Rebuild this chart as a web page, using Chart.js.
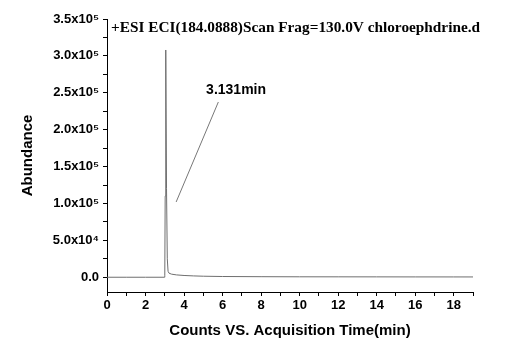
<!DOCTYPE html>
<html>
<head>
<meta charset="utf-8">
<script src="https://cdn.jsdelivr.net/npm/chart.js@4"></script>
<style>
  html, body { margin: 0; padding: 0; background: #fff; }
  #wrap { width: 518px; height: 354px; }
</style>
</head>
<body>
<div id="wrap"><canvas id="tic" width="518" height="354"></canvas></div>
<script>
// retention time (min) and abundance
const times = [0, 1, 2, 2.97, 3.0, 3.02, 3.05, 3.09, 3.13, 3.17, 3.22, 3.35, 3.6, 4.0, 4.5, 5, 6, 8, 10, 12, 14, 16, 18, 19];
const abundance = [0, 0, 0, 0, 2000, 110000, 308000, 120000, 25000, 8000, 5500, 4200, 3200, 2400, 1800, 1400, 1000, 750, 600, 550, 500, 450, 420, 400];

// labelled ticks and the unlabelled ticks in between
const yTickValues = [0, 50000, 100000, 150000, 200000, 250000, 300000, 350000];
const yTickLabels = ['0.0', '5.0x10\u2074', '1.0x10\u2075', '1.5x10\u2075', '2.0x10\u2075', '2.5x10\u2075', '3.0x10\u2075', '3.5x10\u2075'];
const yMinorTicks = [25000, 75000, 125000, 175000, 225000, 275000, 325000];
const xTickValues = [0, 2, 4, 6, 8, 10, 12, 14, 16, 18];
const xMinorTicks = [1, 3, 5, 7, 9, 11, 13, 15, 17, 19];

const plotTitle = '+ESI ECI(184.0888)Scan Frag=130.0V chloroephdrine.d';
const peakLabel = '3.131min';
const peakLabelAt = [6.7, 253000];
const leaderX = [3.59, 5.78];
const leaderY = [102000, 237500];

const sans = '"Liberation Sans", Arial, "DejaVu Sans", sans-serif';

const setTicks = (major, minor) => (s) => {
  s.ticks = major.concat(minor).sort((a, b) => a - b).map(v => ({ value: v }));
};

const textPlugin = {
  id: 'textPlugin',
  afterDraw(chart) {
    const ctx = chart.ctx;
    const xs = chart.scales.x, ys = chart.scales.y;
    ctx.save();
    ctx.fillStyle = '#000';
    ctx.font = 'bold 15.3px "Liberation Serif", "Times New Roman", serif';
    ctx.textBaseline = 'middle';
    ctx.textAlign = 'left';
    ctx.fillText(plotTitle, chart.chartArea.left + 4, chart.chartArea.top + 9);
    ctx.font = 'bold 14px ' + sans;
    ctx.textAlign = 'center';
    ctx.fillText(peakLabel, xs.getPixelForValue(peakLabelAt[0]), ys.getPixelForValue(peakLabelAt[1]));
    ctx.restore();
  }
};

new Chart(document.getElementById('tic').getContext('2d'), {
  type: 'line',
  data: {
    datasets: [
      {
        data: times.map((t, i) => ({ x: t, y: abundance[i] })),
        borderColor: '#6e6e6e', borderWidth: 1, pointRadius: 0, tension: 0, fill: false
      },
      {
        data: leaderX.map((t, i) => ({ x: t, y: leaderY[i] })),
        borderColor: '#777', borderWidth: 1, pointRadius: 0, tension: 0, fill: false
      }
    ]
  },
  options: {
    responsive: false,
    animation: false,
    layout: { padding: { left: 0, right: 45, top: 19, bottom: 0 } },
    plugins: { legend: { display: false }, tooltip: { enabled: false } },
    scales: {
      x: {
        type: 'linear', min: 0, max: 19,
        afterBuildTicks: setTicks(xTickValues, xMinorTicks),
        afterFit: (s) => { s.height = 62; },
        border: { display: true, color: '#000', width: 1 },
        grid: { drawOnChartArea: false, drawTicks: true, tickLength: 4, color: '#000' },
        ticks: {
          autoSkip: false, maxRotation: 0, padding: 2,
          color: '#000', font: { family: sans, size: 13, weight: 'bold' },
          callback: (v) => xTickValues.includes(v) ? String(v) : ''
        },
        title: {
          display: true, text: 'Counts VS. Acquisition Time(min)', color: '#000',
          font: { family: sans, size: 15, weight: 'bold' }, padding: { top: 14, bottom: 14 }
        }
      },
      y: {
        type: 'linear', min: -20000, max: 350000,
        afterBuildTicks: setTicks(yTickValues, yMinorTicks),
        afterFit: (s) => { s.width = 107; },
        border: { display: true, color: '#000', width: 1 },
        grid: { drawOnChartArea: false, drawTicks: true, tickLength: 4, color: '#000' },
        ticks: {
          autoSkip: false, padding: 4,
          color: '#000', font: { family: sans, size: 13, weight: 'bold' },
          callback: (v) => { const k = yTickValues.indexOf(v); return k >= 0 ? yTickLabels[k] : ''; }
        },
        title: {
          display: true, text: 'Abundance', color: '#000',
          font: { family: sans, size: 15, weight: 'bold' }, padding: { top: 19, bottom: 19 }
        }
      }
    }
  },
  plugins: [textPlugin]
});
</script>
</body>
</html>
